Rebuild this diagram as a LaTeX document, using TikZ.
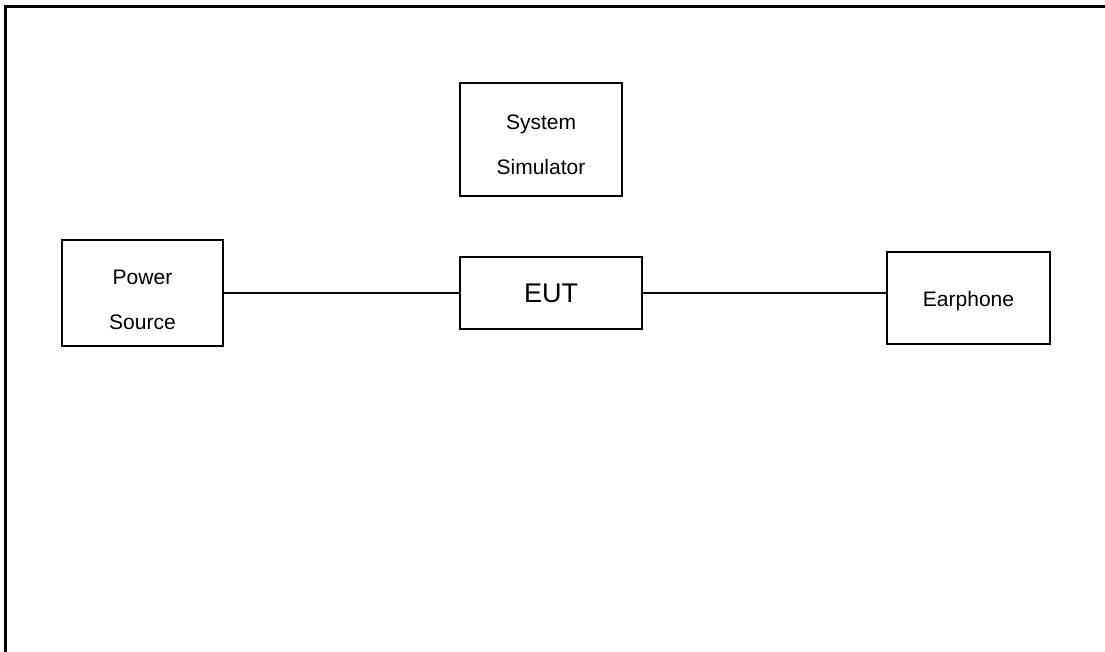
\documentclass[tikz,border=0pt]{standalone}
\usepackage{fontspec}
\setmainfont{Liberation Sans}
\tikzset{
  caja/.style={draw, line width=1.1pt, align=center, inner sep=0pt,
    font=\fontsize{21}{45}\selectfont},
  bajar/.style={execute at begin node={\rule{0pt}{#1}}},
  cable/.style={line width=1.2pt}
}
\begin{document}
\begin{tikzpicture}[x=1pt,y=-1pt]
        \useasboundingbox (0,0) rectangle (1105,652);
        % Marco: solo arriba e izquierda
        \draw[line width=3pt] (1105,7) -- (5.5,7) -- (5.5,652);

        % Cajas del montaje
        \node[caja, bajar=74pt, minimum width=161pt, minimum height=106pt] (fuente) at (142.5,293) {Power\\Source};
        \node[caja, bajar=70pt, minimum width=162pt, minimum height=113pt] (simulador) at (541,139.5) {System\\Simulator};
        \node[caja, minimum width=182pt, minimum height=72pt, font=\fontsize{27}{30}\selectfont] (eut) at (551,293) {EUT};
        \node[caja, bajar=22pt, minimum width=163pt, minimum height=92pt] (auricular) at (968.5,298) {Earphone};

        % Cables
        \draw[cable] (fuente.east) -- (eut.west);
        \draw[cable] (eut.east) -- (eut.east -| auricular.west);
    \end{tikzpicture}
\end{document}
